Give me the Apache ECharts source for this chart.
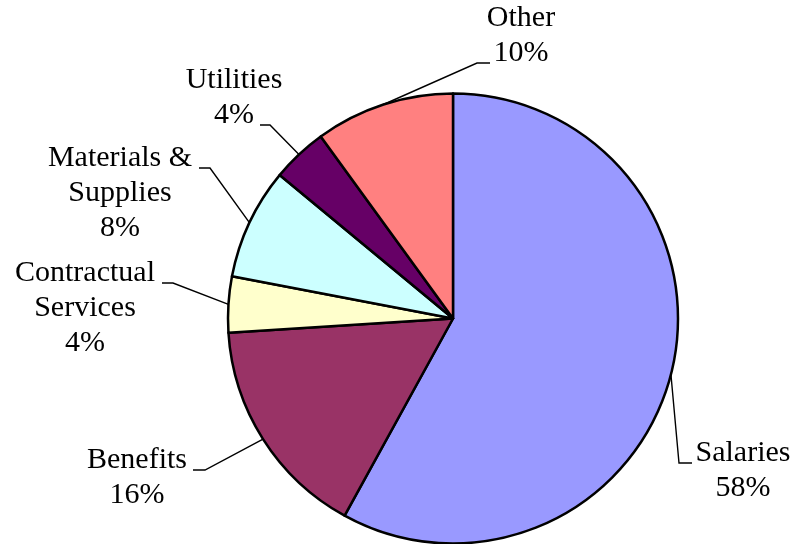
<!DOCTYPE html>
<html>
<head>
<meta charset="utf-8">
<script src="https://cdn.jsdelivr.net/npm/echarts@6/dist/echarts.min.js"></script>
<style>
  html, body { margin: 0; padding: 0; background: #ffffff; }
  #chart { width: 796px; height: 544px; }
</style>
</head>
<body>
<div id="chart"></div>
<script>
// Budget breakdown by expense type (percent of total)
const categories = ['Salaries', 'Benefits', 'Contractual\nServices', 'Materials &\nSupplies', 'Utilities', 'Other'];
const shares = [58, 16, 4, 8, 4, 10];
const sliceColors = ['#9999FF', '#993366', '#FFFFCC', '#CCFFFF', '#660066', '#FF8080'];

// Pie geometry and text metrics
const CENTER = [453, 318.5];
const RADIUS = 225;
const FONT_SIZE = 30;
const LINE_H = 35;
const BASE_OFFSET = LINE_H / 2 + 10; // from top of a line box to its baseline

// Label placement: centre x of the text block, baseline of its first line,
// index of the line the leader attaches to, and the leader stub's outer/inner x.
const labelSpots = [
  { cx: 743, base: 463, attach: 0, stub: [692, 679] },
  { cx: 137, base: 470, attach: 0, stub: [193, 205] },
  { cx: 85,  base: 283, attach: 0, stub: [162, 173] },
  { cx: 120, base: 168, attach: 0, stub: [199, 210] },
  { cx: 234, base: 90,  attach: 1, stub: [260, 270] },
  { cx: 521, base: 28,  attach: 1, stub: [490, 477] }
];

const total = shares.reduce((a, b) => a + b, 0);

// Mid-angle point on the rim of a slice (used only if the series gives no leader points)
function rimPoint(i) {
  let before = 0;
  for (let k = 0; k < i; k++) before += shares[k];
  const a = (before + shares[i] / 2) / total * Math.PI * 2;
  return [CENTER[0] + RADIUS * Math.sin(a), CENTER[1] - RADIUS * Math.cos(a)];
}

const chart = echarts.init(document.getElementById('chart'), null, { renderer: 'canvas' });

chart.setOption({
  backgroundColor: '#ffffff',
  animation: false,
  series: [{
    type: 'pie',
    center: CENTER,
    radius: RADIUS,
    startAngle: 90,
    clockwise: true,
    avoidLabelOverlap: false,
    data: categories.map((name, i) => ({
      name: name,
      value: shares[i],
      itemStyle: { color: sliceColors[i] }
    })),
    itemStyle: { borderColor: '#000000', borderWidth: 2.5 },
    emphasis: { disabled: true },
    label: {
      show: true,
      position: 'outside',
      overflow: 'none',
      edgeDistance: 0,
      formatter: p => p.name + '\n' + p.value + '%',
      fontFamily: '"Liberation Serif", "Times New Roman", serif',
      fontSize: FONT_SIZE,
      lineHeight: LINE_H,
      color: '#000000'
    },
    labelLine: {
      show: true,
      length: 10,
      length2: 10,
      lineStyle: { color: '#000000', width: 1.4 }
    },
    labelLayout: function (params) {
      const spot = labelSpots[params.dataIndex];
      const rim = (params.labelLinePoints && params.labelLinePoints[0]) || rimPoint(params.dataIndex);
      const y = spot.base + spot.attach * LINE_H;
      return {
        x: spot.cx,
        y: spot.base - BASE_OFFSET,
        align: 'center',
        verticalAlign: 'top',
        labelLinePoints: [rim.slice(), [spot.stub[1], y], [spot.stub[0], y]]
      };
    }
  }]
});
</script>
</body>
</html>
